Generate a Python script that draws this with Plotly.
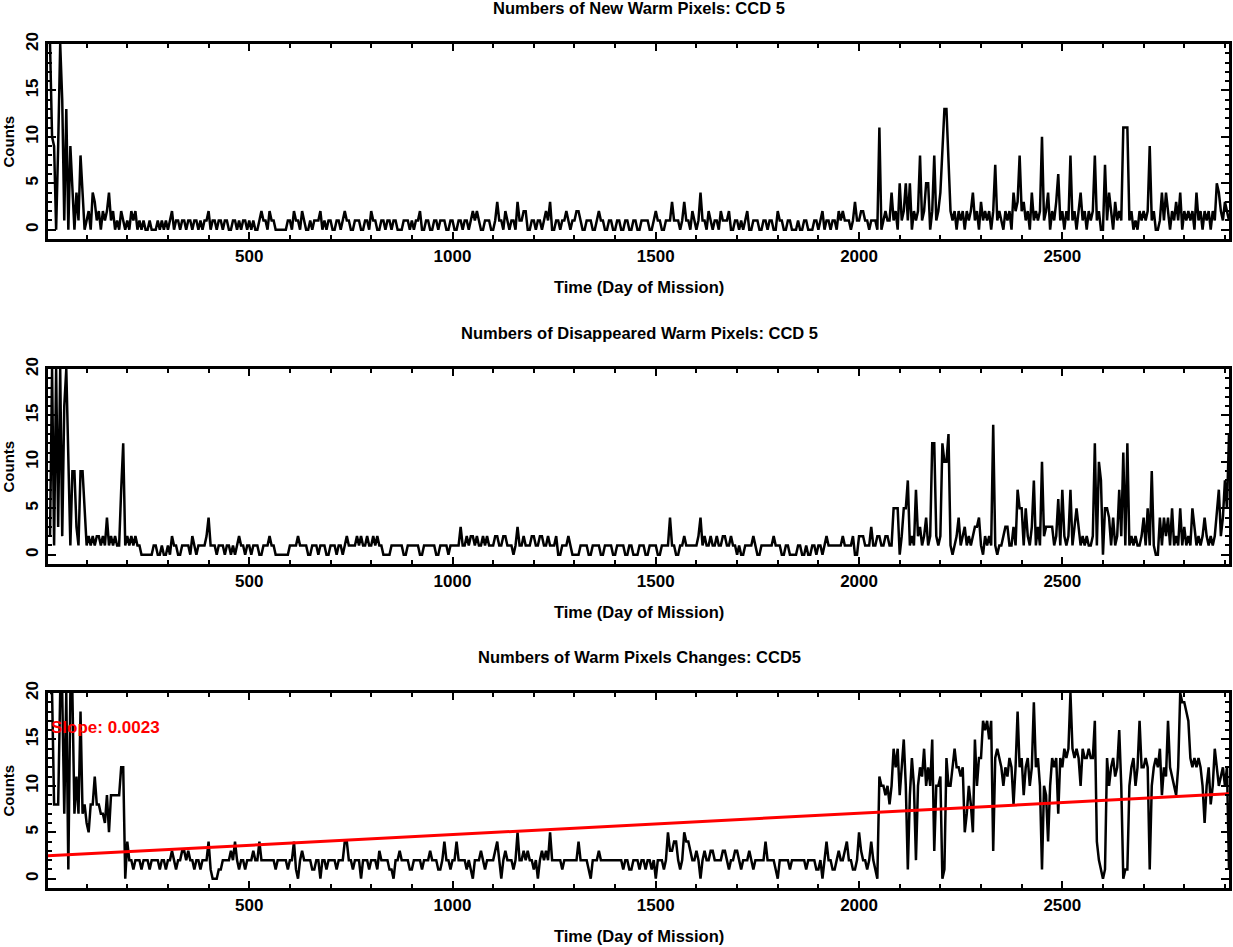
import plotly.graph_objects as go

# ---------------- data (sampled every 5 days, day 10 .. 2910) ----------------
start_day = 10
step_days = 5

new_pixels = [
    20, 10, 9, 0, 9, 20, 14, 1, 13, 0, 9, 5, 0, 4, 1, 8, 4, 0, 1, 2,
    0, 4, 3, 1, 2, 0, 2, 1, 2, 4, 1, 2, 0, 1, 0, 2, 1, 0, 1, 0,
    2, 1, 2, 0, 1, 0, 1, 0, 0, 1, 0, 0, 0, 1, 0, 1, 0, 1, 0, 1,
    2, 0, 1, 1, 0, 1, 1, 0, 1, 1, 0, 1, 1, 0, 1, 0, 1, 1, 2, 0,
    1, 1, 0, 1, 1, 0, 1, 1, 0, 0, 1, 1, 0, 1, 0, 1, 1, 0, 1, 0,
    1, 0, 0, 1, 2, 1, 1, 0, 2, 1, 1, 0, 0, 0, 0, 0, 0, 1, 1, 0,
    2, 1, 1, 0, 2, 1, 0, 0, 1, 0, 1, 1, 1, 2, 0, 1, 0, 1, 1, 0,
    0, 1, 1, 0, 1, 2, 1, 1, 0, 0, 1, 1, 1, 0, 0, 1, 1, 0, 2, 1,
    1, 0, 0, 1, 1, 0, 1, 1, 0, 1, 1, 0, 0, 0, 1, 1, 1, 0, 1, 0,
    1, 1, 2, 0, 0, 1, 1, 0, 0, 1, 1, 0, 1, 1, 1, 0, 0, 1, 1, 0,
    0, 1, 1, 0, 1, 1, 0, 1, 2, 1, 2, 1, 0, 0, 1, 1, 1, 0, 0, 1,
    3, 1, 1, 0, 2, 1, 0, 1, 1, 0, 3, 1, 1, 2, 2, 0, 0, 1, 1, 0,
    1, 1, 0, 1, 2, 1, 3, 0, 0, 1, 1, 0, 1, 1, 2, 1, 0, 1, 1, 2,
    2, 1, 0, 0, 1, 1, 1, 0, 0, 1, 2, 1, 1, 0, 0, 1, 1, 0, 0, 1,
    1, 0, 0, 1, 1, 0, 0, 1, 1, 0, 0, 1, 1, 1, 1, 0, 0, 1, 2, 1,
    1, 0, 0, 1, 1, 1, 3, 1, 1, 1, 0, 1, 3, 1, 1, 0, 2, 1, 0, 1,
    4, 1, 1, 0, 2, 1, 0, 1, 1, 0, 2, 1, 1, 1, 2, 0, 0, 1, 1, 0,
    1, 0, 1, 2, 0, 0, 1, 1, 1, 0, 0, 1, 1, 0, 1, 1, 0, 0, 2, 1,
    1, 0, 0, 1, 1, 0, 0, 0, 1, 0, 0, 1, 1, 0, 0, 0, 1, 1, 0, 1,
    2, 0, 1, 1, 0, 1, 1, 0, 2, 1, 2, 1, 1, 1, 0, 1, 3, 1, 1, 2,
    2, 1, 1, 0, 1, 1, 1, 0, 11, 0, 1, 2, 1, 1, 4, 1, 2, 0, 5, 1,
    2, 5, 1, 5, 0, 2, 1, 2, 8, 1, 2, 5, 5, 0, 2, 8, 1, 2, 4, 8,
    13, 13, 8, 2, 1, 2, 0, 2, 1, 2, 0, 2, 1, 2, 4, 1, 2, 0, 3, 1,
    2, 1, 2, 0, 2, 7, 1, 2, 1, 0, 2, 1, 2, 0, 4, 2, 3, 8, 2, 3,
    1, 2, 0, 4, 1, 2, 1, 2, 10, 1, 2, 4, 0, 2, 1, 3, 6, 1, 2, 0,
    2, 1, 8, 1, 2, 0, 2, 4, 1, 2, 0, 2, 1, 2, 8, 1, 2, 0, 0, 7,
    1, 4, 2, 0, 3, 1, 2, 1, 11, 11, 11, 1, 2, 0, 1, 0, 2, 1, 2, 1,
    2, 9, 1, 2, 0, 0, 1, 4, 1, 4, 2, 0, 2, 1, 3, 1, 4, 0, 2, 1,
    2, 1, 2, 0, 4, 1, 2, 0, 2, 1, 2, 0, 2, 1, 5, 4, 2, 1, 3, 2,
    1,
]

disappeared_pixels = [
    2, 20, 1, 20, 3, 20, 2, 16, 20, 10, 1, 9, 9, 3, 1, 9, 9, 5, 1, 2,
    1, 2, 1, 2, 2, 1, 2, 1, 4, 1, 2, 1, 2, 1, 1, 7, 12, 1, 2, 1,
    2, 1, 2, 1, 1, 0, 0, 0, 0, 0, 0, 1, 1, 0, 0, 1, 0, 0, 1, 0,
    2, 1, 1, 0, 0, 1, 1, 1, 1, 0, 2, 1, 0, 1, 1, 1, 1, 2, 4, 1,
    1, 1, 0, 1, 1, 1, 0, 1, 1, 0, 1, 0, 1, 2, 1, 1, 0, 1, 1, 0,
    1, 1, 1, 0, 0, 1, 1, 1, 2, 1, 1, 0, 0, 0, 0, 0, 0, 0, 1, 1,
    1, 1, 2, 1, 1, 1, 1, 0, 0, 1, 1, 1, 0, 1, 1, 1, 0, 0, 1, 1,
    1, 0, 1, 1, 0, 1, 2, 1, 1, 1, 1, 2, 1, 2, 1, 1, 2, 1, 1, 2,
    1, 2, 1, 1, 0, 0, 0, 0, 1, 1, 1, 1, 1, 1, 0, 0, 1, 1, 1, 1,
    1, 1, 0, 0, 1, 1, 1, 1, 1, 1, 0, 0, 1, 1, 1, 1, 0, 1, 1, 1,
    1, 1, 3, 1, 1, 2, 1, 2, 2, 1, 2, 1, 1, 2, 1, 2, 1, 1, 1, 2,
    2, 1, 1, 2, 2, 1, 1, 1, 0, 1, 3, 1, 1, 2, 1, 1, 1, 2, 2, 1,
    1, 2, 2, 1, 1, 2, 1, 1, 1, 2, 0, 0, 1, 1, 1, 2, 1, 0, 0, 0,
    0, 1, 1, 1, 1, 0, 0, 1, 1, 1, 1, 0, 0, 1, 1, 1, 1, 0, 0, 1,
    1, 1, 1, 0, 0, 1, 1, 0, 0, 0, 1, 1, 1, 0, 0, 1, 1, 1, 1, 0,
    0, 1, 1, 1, 1, 4, 1, 1, 0, 0, 1, 1, 2, 1, 1, 1, 1, 1, 1, 2,
    4, 1, 2, 1, 1, 2, 1, 1, 2, 1, 1, 2, 2, 1, 1, 2, 1, 1, 0, 1,
    0, 0, 1, 1, 1, 1, 2, 1, 0, 0, 1, 1, 1, 1, 1, 1, 2, 1, 1, 1,
    0, 0, 1, 1, 0, 0, 0, 0, 1, 1, 0, 0, 1, 0, 0, 1, 1, 0, 1, 1,
    0, 1, 2, 1, 1, 1, 1, 1, 1, 1, 2, 1, 1, 1, 1, 2, 0, 0, 2, 2,
    2, 1, 1, 1, 3, 1, 1, 2, 2, 1, 1, 2, 2, 1, 1, 5, 5, 5, 0, 2,
    5, 5, 8, 1, 2, 1, 7, 2, 3, 1, 2, 4, 1, 2, 12, 12, 2, 1, 2, 12,
    10, 10, 13, 1, 0, 1, 2, 4, 1, 2, 3, 1, 2, 1, 2, 3, 3, 4, 1, 0,
    2, 1, 2, 1, 14, 1, 0, 1, 1, 2, 3, 3, 1, 1, 3, 1, 7, 5, 5, 1,
    5, 2, 1, 3, 8, 1, 3, 1, 10, 2, 3, 3, 3, 3, 1, 2, 6, 1, 7, 2,
    1, 2, 7, 1, 3, 5, 3, 1, 2, 1, 2, 1, 1, 2, 12, 1, 10, 8, 0, 5,
    5, 4, 1, 4, 1, 2, 7, 2, 11, 1, 12, 1, 2, 1, 2, 1, 1, 2, 4, 1,
    5, 1, 9, 1, 0, 0, 4, 1, 4, 2, 4, 1, 5, 1, 2, 1, 5, 1, 3, 1,
    2, 1, 5, 3, 1, 2, 1, 2, 4, 2, 1, 2, 1, 2, 5, 7, 2, 4, 8, 5,
    13,
]

pixel_changes = [
    20, 20, 8, 8, 8, 20, 20, 7, 20, 1, 20, 20, 7, 11, 7, 18, 7, 8, 6, 5,
    8, 8, 11, 8, 8, 7, 7, 6, 9, 5, 9, 9, 9, 9, 9, 12, 12, 0, 4, 2,
    2, 1, 2, 2, 2, 1, 2, 2, 2, 1, 2, 2, 2, 2, 1, 2, 2, 1, 2, 2,
    3, 2, 1, 2, 2, 3, 3, 2, 3, 2, 2, 1, 2, 2, 1, 2, 2, 2, 4, 1,
    0, 0, 0, 1, 1, 2, 2, 2, 2, 3, 2, 4, 2, 1, 2, 2, 1, 2, 2, 2,
    3, 2, 2, 4, 2, 2, 2, 2, 2, 2, 2, 1, 2, 2, 2, 2, 2, 1, 2, 2,
    4, 1, 0, 2, 3, 2, 2, 2, 2, 1, 1, 2, 2, 0, 2, 2, 1, 2, 2, 2,
    2, 1, 2, 2, 2, 4, 4, 2, 2, 1, 2, 2, 2, 0, 2, 2, 2, 1, 2, 2,
    2, 1, 3, 2, 2, 2, 2, 1, 1, 0, 2, 2, 3, 2, 2, 2, 2, 1, 1, 2,
    2, 2, 2, 1, 2, 2, 2, 3, 2, 2, 2, 1, 1, 2, 4, 2, 2, 1, 2, 2,
    4, 2, 2, 2, 2, 1, 2, 1, 0, 2, 2, 2, 3, 2, 1, 2, 2, 2, 2, 3,
    4, 2, 0, 2, 3, 2, 2, 2, 1, 2, 5, 2, 2, 3, 2, 3, 2, 2, 1, 2,
    0, 2, 3, 2, 3, 2, 5, 2, 2, 2, 2, 2, 1, 2, 2, 2, 2, 2, 2, 2,
    4, 2, 2, 2, 2, 1, 0, 2, 2, 2, 3, 2, 2, 2, 2, 2, 2, 2, 2, 2,
    2, 2, 1, 2, 2, 1, 1, 2, 2, 2, 1, 2, 2, 1, 2, 2, 1, 2, 0, 2,
    2, 2, 1, 2, 5, 3, 3, 4, 4, 2, 1, 2, 5, 4, 4, 3, 2, 2, 3, 2,
    0, 2, 3, 2, 2, 3, 3, 2, 2, 2, 2, 3, 3, 2, 1, 2, 2, 3, 3, 2,
    1, 2, 2, 2, 3, 2, 1, 2, 2, 2, 2, 2, 4, 2, 2, 2, 2, 1, 0, 2,
    2, 2, 2, 2, 1, 2, 2, 2, 2, 2, 2, 2, 1, 2, 2, 2, 2, 1, 1, 2,
    0, 2, 4, 2, 2, 1, 1, 2, 3, 2, 2, 3, 4, 2, 2, 1, 1, 2, 5, 3,
    2, 2, 1, 2, 4, 2, 1, 0, 11, 10, 10, 9, 10, 8, 10, 14, 12, 14, 9, 12,
    15, 10, 1, 9, 13, 10, 2, 10, 12, 11, 14, 10, 12, 10, 15, 3, 10, 10, 11, 0,
    1, 13, 10, 10, 12, 14, 12, 12, 11, 12, 5, 7, 10, 8, 5, 15, 10, 13, 13, 17,
    16, 17, 15, 17, 3, 13, 14, 13, 12, 10, 12, 11, 13, 12, 8, 12, 18, 12, 13, 9,
    12, 13, 10, 12, 19, 12, 13, 10, 1, 10, 9, 4, 10, 13, 12, 13, 7, 13, 12, 14,
    13, 14, 20, 14, 13, 14, 13, 10, 14, 13, 13, 14, 13, 13, 17, 4, 2, 1, 0, 1,
    13, 10, 12, 13, 11, 12, 16, 10, 0, 1, 1, 10, 12, 13, 10, 12, 17, 12, 12, 13,
    12, 1, 10, 12, 13, 12, 14, 9, 12, 11, 17, 12, 11, 10, 9, 12, 20, 19, 19, 18,
    17, 13, 12, 13, 12, 13, 12, 10, 6, 10, 12, 8, 10, 14, 12, 10, 11, 12, 10, 12,
    1,
]

fit_slope = 0.0023
fit_intercept = 2.45

panel_titles = [
    "Numbers of New Warm Pixels: CCD 5",
    "Numbers of Disappeared Warm Pixels: CCD 5",
    "Numbers of Warm Pixels Changes: CCD5",
]
x_title = "Time (Day of Mission)"
y_title = "Counts"

x_range = [5, 2910]
y_range = [-1, 20]

# ---------------- figure ----------------
W, H = 1233, 947
FONT = "Liberation Sans"

def px_x(p):
    return p / W

def px_y(p):
    return 1 - p / H

series = [new_pixels, disappeared_pixels, pixel_changes]
panel_top = [44, 369, 693]
panel_h = 195
x_dom = [px_x(48), px_x(1229)]

fig = go.Figure()

annotations = []
for k, vals in enumerate(series):
    days = [start_day + step_days * i for i in range(len(vals))]
    xa = "x" if k == 0 else f"x{k+1}"
    ya = "y" if k == 0 else f"y{k+1}"
    fig.add_trace(go.Scatter(
        x=days, y=vals, mode="lines", xaxis=xa, yaxis=ya,
        line=dict(color="black", width=2.5), showlegend=False,
        hoverinfo="skip",
    ))
    top = panel_top[k]
    bot = top + panel_h
    axis_common = dict(
        showline=True, linewidth=3, linecolor="black", mirror="allticks",
        ticks="inside", tickcolor="black", tickwidth=2,
        showgrid=False, zeroline=False, automargin=False,
        tickfont=dict(family=FONT, size=17, color="black", weight="bold"),
    )
    fig.layout[("xaxis" if k == 0 else f"xaxis{k+1}")] = dict(
        domain=x_dom, range=x_range, tick0=0, dtick=500, ticklen=7,
        minor=dict(dtick=100, ticks="inside", ticklen=4, tickwidth=2, tickcolor="black"),
        anchor=ya, **axis_common,
    )
    fig.layout[("yaxis" if k == 0 else f"yaxis{k+1}")] = dict(
        domain=[px_y(bot), px_y(top)], range=y_range, tick0=0, dtick=5, ticklen=8,
        tickangle=-90,
        minor=dict(dtick=1, ticks="inside", ticklen=4, tickwidth=2, tickcolor="black"),
        anchor=xa, **axis_common,
    )
    annotations.append(dict(
        text=panel_titles[k], xref="paper", yref="paper",
        x=px_x(639), y=px_y(top - 36), xanchor="center", yanchor="middle",
        showarrow=False, font=dict(family=FONT, size=16.5, color="black", weight="bold"),
    ))
    annotations.append(dict(
        text=x_title, xref="paper", yref="paper",
        x=px_x(639), y=px_y(bot + 48), xanchor="center", yanchor="middle",
        showarrow=False, font=dict(family=FONT, size=16.5, color="black", weight="bold"),
    ))
    annotations.append(dict(
        text=y_title, xref="paper", yref="paper", textangle=-90,
        x=px_x(8), y=px_y(top + panel_h / 2), xanchor="center", yanchor="middle",
        showarrow=False, font=dict(family=FONT, size=15, color="black", weight="bold"),
    ))

# regression line on the third panel
fit_x = list(x_range)
fit_y = [fit_intercept + fit_slope * v for v in fit_x]
fig.add_trace(go.Scatter(
    x=fit_x, y=fit_y, mode="lines", xaxis="x3", yaxis="y3",
    line=dict(color="red", width=3), showlegend=False, hoverinfo="skip",
))
annotations.append(dict(
    text=f"Slope: {fit_slope:.4f}", xref="x3", yref="y3",
    x=8, y=16.3, xanchor="left", yanchor="middle", showarrow=False,
    font=dict(family=FONT, size=17, color="red", weight="bold"),
))

fig.update_layout(
    width=W, height=H,
    margin=dict(l=0, r=0, t=0, b=0, pad=0),
    paper_bgcolor="white", plot_bgcolor="white",
    template="none",
    annotations=annotations,
    showlegend=False,
)

fig.write_html(
    "out.html",
    config={"displayModeBar": False, "staticPlot": True},
    post_script="document.body.style.margin='0px';document.body.style.overflow='hidden';",
)
